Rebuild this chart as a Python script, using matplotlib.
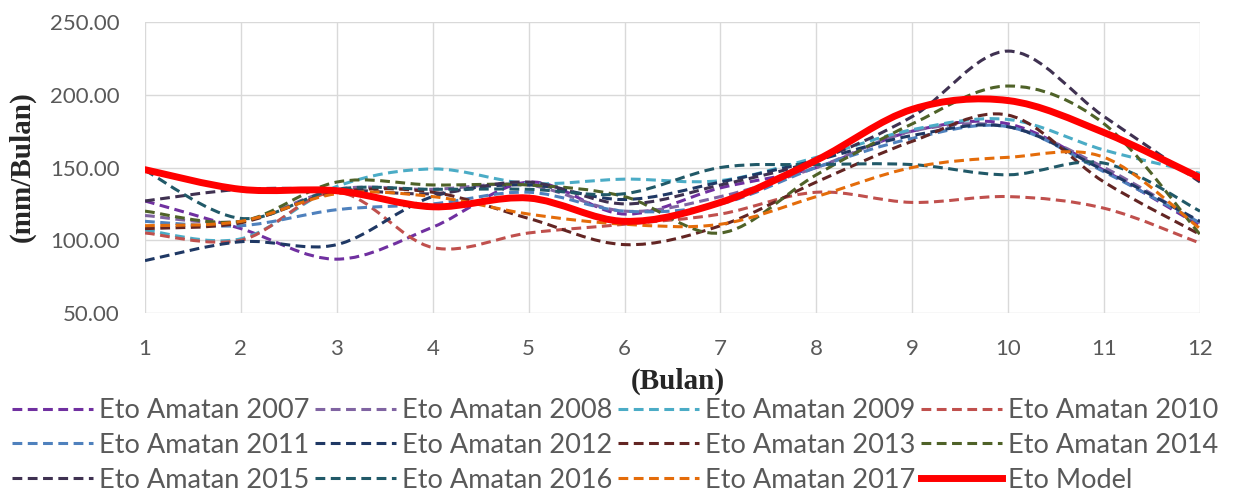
import matplotlib
matplotlib.use("Agg")
import matplotlib.pyplot as plt
from matplotlib.path import Path
from matplotlib.patches import PathPatch
from matplotlib.lines import Line2D
import numpy as np

months = [1, 2, 3, 4, 5, 6, 7, 8, 9, 10, 11, 12]
eto_2007 = [127, 108, 87, 109, 140, 118, 136, 150, 175, 180, 148, 110]
eto_2008 = [117, 113, 135, 135, 138, 120, 130, 150, 175, 178, 150, 112]
eto_2009 = [107, 101, 137, 149, 139, 142, 141, 157, 176, 183, 162, 146]
eto_2010 = [105, 100, 133, 95, 105, 111, 118, 133, 126, 130, 122, 98]
eto_2011 = [113, 110, 121, 125, 133, 120, 125, 150, 170, 178, 147, 112]
eto_2012 = [86, 99, 97, 130, 138, 128, 140, 155, 172, 178, 148, 113]
eto_2013 = [108, 112, 133, 133, 115, 97, 110, 140, 168, 186, 140, 104]
eto_2014 = [120, 113, 140, 138, 138, 130, 105, 145, 180, 206, 180, 104]
eto_2015 = [127, 135, 135, 132, 140, 125, 138, 155, 185, 230, 185, 140]
eto_2016 = [148, 115, 135, 135, 135, 132, 150, 152, 152, 145, 153, 120]
eto_2017 = [110, 113, 132, 130, 118, 111, 111, 130, 150, 157, 157, 108]
eto_model = [148.5, 135, 134, 123, 129, 113, 126, 155, 190, 196, 174, 143]

series = [
    ("Eto Amatan 2007", eto_2007, "#7030A0"),
    ("Eto Amatan 2008", eto_2008, "#8064A2"),
    ("Eto Amatan 2009", eto_2009, "#4BACC6"),
    ("Eto Amatan 2010", eto_2010, "#C0504D"),
    ("Eto Amatan 2011", eto_2011, "#4F81BD"),
    ("Eto Amatan 2012", eto_2012, "#1F3864"),
    ("Eto Amatan 2013", eto_2013, "#632523"),
    ("Eto Amatan 2014", eto_2014, "#4F6228"),
    ("Eto Amatan 2015", eto_2015, "#3F3151"),
    ("Eto Amatan 2016", eto_2016, "#215968"),
    ("Eto Amatan 2017", eto_2017, "#E46C0A"),
]
model_label = "Eto Model"
model_color = "#FF0000"

yticks = [50, 100, 150, 200, 250]

W, H = 1239, 493
fig = plt.figure(figsize=(W / 100, H / 100), dpi=100)
ax = fig.add_axes([145 / W, 1 - 313 / H, (1200 - 145) / W, (313 - 22) / H])


def smooth_path(x, y):
    x = np.asarray(x, float)
    y = np.asarray(y, float)
    n = len(x)
    verts = [(x[0], y[0])]
    codes = [Path.MOVETO]
    for i in range(n - 1):
        p0 = np.array([x[max(i - 1, 0)], y[max(i - 1, 0)]])
        p1 = np.array([x[i], y[i]])
        p2 = np.array([x[i + 1], y[i + 1]])
        p3 = np.array([x[min(i + 2, n - 1)], y[min(i + 2, n - 1)]])
        c1 = p1 + (p2 - p0) / 6.0
        c2 = p2 - (p3 - p1) / 6.0
        verts += [tuple(c1), tuple(c2), tuple(p2)]
        codes += [Path.CURVE4] * 3
    return Path(verts, codes)


dash = (0, (3.2, 1.8))
handles = []
for label, vals, col in series:
    p = PathPatch(smooth_path(months, vals), fill=False, edgecolor=col,
                  linewidth=2.2, linestyle=dash, capstyle="butt", zorder=3)
    ax.add_patch(p)
    handles.append(Line2D([], [], color=col, linewidth=2.2, linestyle=dash, label=label))

pm = PathPatch(smooth_path(months, eto_model), fill=False, edgecolor=model_color,
               linewidth=5.0, zorder=4, capstyle="round", joinstyle="round")
ax.add_patch(pm)
handles.append(Line2D([], [], color=model_color, linewidth=5.0, label=model_label))

ax.set_xlim(1, 12)
ax.set_ylim(50, 250)
ax.set_xticks(months)
ax.set_yticks(yticks)
ax.set_yticklabels([f"{v:.2f}" for v in yticks])
ax.grid(True, color="#D9D9D9", linewidth=1.0)
ax.set_axisbelow(True)
for s in ax.spines.values():
    s.set_visible(False)
ax.tick_params(length=0, labelsize=16, colors="#595959")
ax.tick_params(axis="x", pad=19)
ax.tick_params(axis="y", pad=18)
for lab in ax.get_xticklabels() + ax.get_yticklabels():
    lab.set_fontfamily("Lato")

fig.text(678 / W, 1 - 381 / H, "(Bulan)", ha="center", va="center",
         fontfamily="Liberation Serif", fontweight="bold", fontsize=21, color="#262626")
fig.text(22 / W, 1 - 167 / H, "(mm/Bulan)", rotation=90, ha="center", va="center",
         fontfamily="Liberation Serif", fontweight="bold", fontsize=21, color="#262626")

# reorder so legend fills row by row (matplotlib fills column by column)
ncol, nrow = 4, 3
ordered = [handles[r * ncol + c] for c in range(ncol) for r in range(nrow)]

leg = fig.legend(handles=ordered, ncol=ncol, loc="upper left",
                 bbox_to_anchor=(12 / W, 1 - 398 / H), frameon=False,
                 prop={"family": "Lato", "size": 19.5}, handlelength=3.0,
                 handletextpad=0.2, columnspacing=0.22, labelspacing=0.36,
                 borderaxespad=0, borderpad=0)
for t in leg.get_texts():
    t.set_color("#595959")

fig.savefig("out.png", dpi=100)
